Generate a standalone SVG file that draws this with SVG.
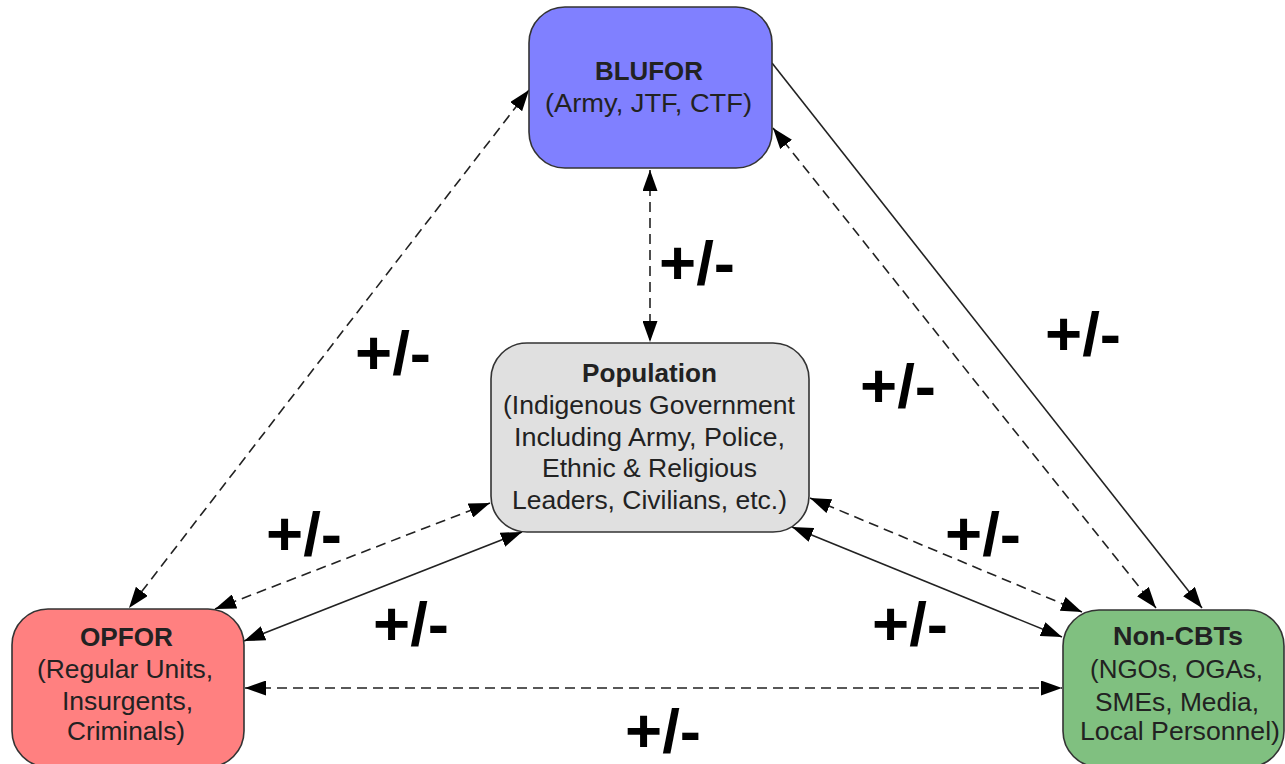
<svg xmlns="http://www.w3.org/2000/svg" width="1285" height="764" viewBox="0 0 1285 764">
<style>
.box{stroke:#333;stroke-width:1.6}
.t{font-family:"Liberation Sans",Arial,sans-serif;font-size:25px;fill:#222;text-anchor:middle}
.b{font-weight:bold}
.pm{font-family:"Liberation Sans",Arial,sans-serif;font-size:62px;font-weight:bold;fill:#000}
.c{stroke:#222;stroke-width:1.6;fill:none}
.d{stroke-dasharray:10,6}
</style>
<defs>
<marker id="ah" viewBox="0 0 21 15" markerUnits="userSpaceOnUse" markerWidth="21" markerHeight="15" refX="21" refY="7.5" orient="auto-start-reverse">
<path d="M0,0 L21,7.5 L0,15 z" fill="#000"/>
</marker>
</defs>
<rect width="1285" height="764" fill="#fff"/>
<g id="connectors">
<line class="c d" x1="650" y1="170" x2="650" y2="342" marker-start="url(#ah)" marker-end="url(#ah)"/>
<line class="c d" x1="529" y1="90" x2="129" y2="608" marker-start="url(#ah)" marker-end="url(#ah)"/>
<line class="c" x1="772" y1="63" x2="1202" y2="608" marker-end="url(#ah)"/>
<line class="c d" x1="773" y1="128" x2="1156" y2="608" marker-start="url(#ah)" marker-end="url(#ah)"/>
<line class="c d" x1="490" y1="503" x2="215" y2="609" marker-start="url(#ah)" marker-end="url(#ah)"/>
<line class="c" x1="522" y1="532" x2="244" y2="641" marker-start="url(#ah)" marker-end="url(#ah)"/>
<line class="c d" x1="810" y1="498" x2="1082" y2="612" marker-start="url(#ah)" marker-end="url(#ah)"/>
<line class="c" x1="792" y1="527" x2="1062" y2="637" marker-start="url(#ah)" marker-end="url(#ah)"/>
<line class="c d" x1="245" y1="688" x2="1062" y2="688" marker-start="url(#ah)" marker-end="url(#ah)"/>
</g>
<g id="labels">
<text class="pm" x="659" y="284" textLength="76" lengthAdjust="spacingAndGlyphs">+/-</text>
<text class="pm" x="355" y="374" textLength="76" lengthAdjust="spacingAndGlyphs">+/-</text>
<text class="pm" x="1045" y="355" textLength="76" lengthAdjust="spacingAndGlyphs">+/-</text>
<text class="pm" x="860" y="407" textLength="76" lengthAdjust="spacingAndGlyphs">+/-</text>
<text class="pm" x="266" y="555" textLength="76" lengthAdjust="spacingAndGlyphs">+/-</text>
<text class="pm" x="945" y="555" textLength="76" lengthAdjust="spacingAndGlyphs">+/-</text>
<text class="pm" x="373" y="645" textLength="76" lengthAdjust="spacingAndGlyphs">+/-</text>
<text class="pm" x="872" y="645" textLength="76" lengthAdjust="spacingAndGlyphs">+/-</text>
<text class="pm" x="625" y="752" textLength="76" lengthAdjust="spacingAndGlyphs">+/-</text>
</g>
<g id="blufor">
<rect class="box" x="529" y="7" width="243" height="161" rx="36" fill="#8080ff"/>
<text class="t b" x="649" y="80" textLength="108" lengthAdjust="spacingAndGlyphs">BLUFOR</text>
<text class="t" x="648.5" y="112" textLength="207" lengthAdjust="spacingAndGlyphs">(Army, JTF, CTF)</text>
</g>
<g id="population">
<rect class="box" x="491" y="343" width="318" height="189" rx="36" fill="#e0e0e0"/>
<text class="t b" x="649.5" y="382" textLength="135" lengthAdjust="spacingAndGlyphs">Population</text>
<text class="t" x="649" y="414" textLength="292" lengthAdjust="spacingAndGlyphs">(Indigenous Government</text>
<text class="t" x="649.5" y="446" textLength="271" lengthAdjust="spacingAndGlyphs">Including Army, Police,</text>
<text class="t" x="649.5" y="477" textLength="215" lengthAdjust="spacingAndGlyphs">Ethnic &amp; Religious</text>
<text class="t" x="649.5" y="509" textLength="275" lengthAdjust="spacingAndGlyphs">Leaders, Civilians, etc.)</text>
</g>
<g id="opfor">
<rect class="box" x="12" y="609" width="232" height="158" rx="36" fill="#ff8080"/>
<text class="t b" x="126.5" y="646" textLength="93" lengthAdjust="spacingAndGlyphs">OPFOR</text>
<text class="t" x="125" y="678" textLength="176" lengthAdjust="spacingAndGlyphs">(Regular Units,</text>
<text class="t" x="127.5" y="710" textLength="131" lengthAdjust="spacingAndGlyphs">Insurgents,</text>
<text class="t" x="126" y="740" textLength="118" lengthAdjust="spacingAndGlyphs">Criminals)</text>
</g>
<g id="noncbts">
<rect class="box" x="1063" y="610" width="221" height="157" rx="36" fill="#80c080"/>
<text class="t b" x="1178" y="645" textLength="130" lengthAdjust="spacingAndGlyphs">Non-CBTs</text>
<text class="t" x="1176.5" y="678" textLength="173" lengthAdjust="spacingAndGlyphs">(NGOs, OGAs,</text>
<text class="t" x="1177" y="711" textLength="164" lengthAdjust="spacingAndGlyphs">SMEs, Media,</text>
<text class="t" x="1180" y="740" textLength="200" lengthAdjust="spacingAndGlyphs">Local Personnel)</text>
</g>
</svg>
